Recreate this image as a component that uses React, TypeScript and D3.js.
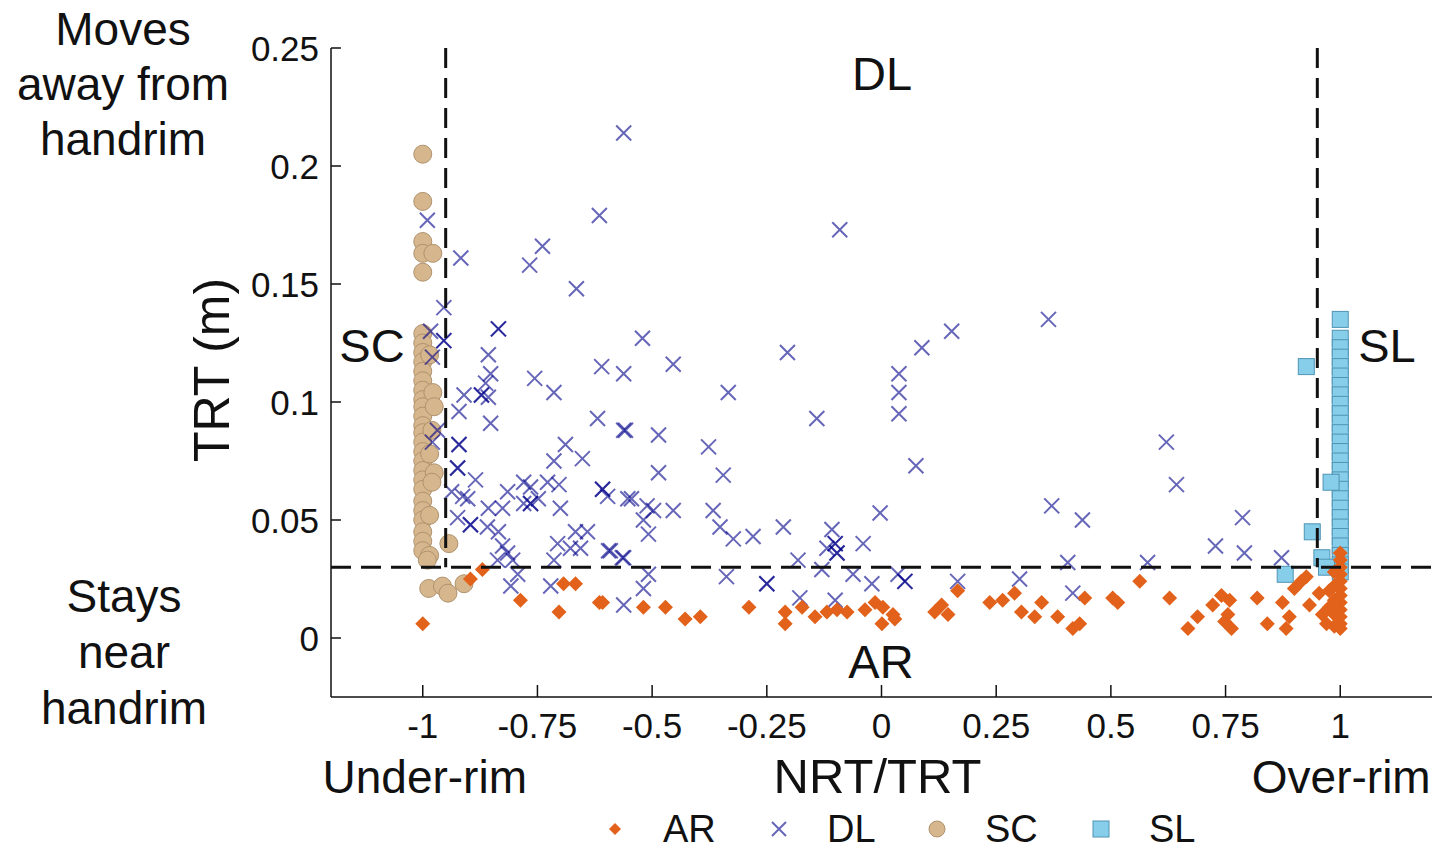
import React from "react";
import * as d3 from "d3";

// ---- data (NRT/TRT, TRT in m) ----
const AR_X = [-1, -0.896, -0.87, -0.787, -0.703, -0.693, -0.667, -0.615, -0.608, -0.519, -0.471, -0.428, -0.395, -0.289, -0.21, -0.21, -0.173, -0.145, -0.119, -0.097, -0.075, -0.036, -0.014, 0.003, 0.001, 0.025, 0.029, 0.116, 0.131, 0.145, 0.166, 0.236, 0.264, 0.29, 0.305, 0.334, 0.349, 0.384, 0.417, 0.432, 0.443, 0.504, 0.515, 0.563, 0.628, 0.668, 0.689, 0.722, 0.741, 0.759, 0.755, 0.763, 0.748, 0.819, 0.841, 0.874, 0.882, 0.889, 0.9, 0.915, 0.933, 0.926, 0.954, 0.961, 0.97, 1, 1, 1, 1, 1, 1, 1, 1, 1, 1, 1, 1, 0.987, 0.987, 0.987, 0.987, 0.987, 0.976, 0.976];
const AR_Y = [0.006, 0.025, 0.029, 0.016, 0.011, 0.023, 0.023, 0.015, 0.015, 0.013, 0.013, 0.008, 0.009, 0.013, 0.011, 0.006, 0.013, 0.009, 0.011, 0.012, 0.011, 0.012, 0.015, 0.013, 0.006, 0.010, 0.008, 0.011, 0.014, 0.010, 0.020, 0.015, 0.016, 0.019, 0.011, 0.009, 0.015, 0.009, 0.004, 0.006, 0.017, 0.017, 0.015, 0.024, 0.017, 0.004, 0.009, 0.014, 0.018, 0.016, 0.010, 0.004, 0.007, 0.017, 0.006, 0.015, 0.004, 0.009, 0.021, 0.024, 0.014, 0.026, 0.019, 0.010, 0.006, 0.036, 0.033, 0.030, 0.027, 0.024, 0.021, 0.018, 0.015, 0.012, 0.009, 0.006, 0.004, 0.028, 0.022, 0.016, 0.010, 0.005, 0.020, 0.013];

const DL_X = [-0.562, -0.99, -0.615, -0.917, -0.767, -0.739, -0.665, -0.954, -0.835, -0.835, -0.983, -0.954, -0.954, -0.979, -0.857, -0.852, -0.863, -0.872, -0.872, -0.857, -0.91, -0.921, -0.852, -0.756, -0.714, -0.61, -0.562, -0.619, -0.562, -0.968, -0.979, -0.921, -0.921, -0.924, -0.924, -0.885, -0.689, -0.714, -0.652, -0.937, -0.913, -0.902, -0.815, -0.78, -0.765, -0.728, -0.703, -0.608, -0.608, -0.597, -0.553, -0.857, -0.826, -0.78, -0.765, -0.765, -0.748, -0.7, -0.924, -0.896, -0.896, -0.859, -0.835, -0.826, -0.815, -0.804, -0.837, -0.793, -0.808, -0.706, -0.667, -0.641, -0.678, -0.656, -0.714, -0.721, -0.591, -0.562, -0.562, -0.091, -0.521, -0.454, -0.334, -0.205, -0.558, -0.486, -0.486, -0.377, -0.345, -0.141, -0.545, -0.511, -0.497, -0.519, -0.508, -0.454, -0.367, -0.352, -0.323, -0.28, -0.214, -0.595, -0.565, -0.508, -0.519, -0.338, -0.25, -0.25, -0.182, -0.178, -0.108, -0.119, -0.101, -0.101, -0.097, -0.097, -0.13, -0.101, -0.062, -0.04, -0.003, -0.021, 0.036, 0.038, 0.038, 0.038, 0.088, 0.153, 0.364, 0.075, 0.051, 0.051, 0.166, 0.301, 0.371, 0.438, 0.406, 0.417, 0.58, 0.621, 0.643, 0.787, 0.728, 0.791, 0.872];
const DL_Y = [0.214, 0.177, 0.179, 0.161, 0.158, 0.166, 0.148, 0.14, 0.131, 0.131, 0.13, 0.126, 0.126, 0.119, 0.12, 0.112, 0.108, 0.103, 0.103, 0.102, 0.103, 0.096, 0.091, 0.11, 0.104, 0.115, 0.112, 0.093, 0.088, 0.088, 0.083, 0.082, 0.082, 0.072, 0.072, 0.067, 0.082, 0.075, 0.076, 0.062, 0.06, 0.059, 0.062, 0.066, 0.064, 0.066, 0.065, 0.063, 0.063, 0.06, 0.059, 0.055, 0.055, 0.057, 0.057, 0.057, 0.059, 0.055, 0.051, 0.048, 0.048, 0.047, 0.045, 0.039, 0.036, 0.033, 0.033, 0.027, 0.022, 0.04, 0.045, 0.045, 0.038, 0.038, 0.033, 0.022, 0.037, 0.034, 0.014, 0.173, 0.127, 0.116, 0.104, 0.121, 0.088, 0.086, 0.07, 0.081, 0.069, 0.093, 0.059, 0.056, 0.054, 0.05, 0.044, 0.054, 0.054, 0.047, 0.042, 0.043, 0.047, 0.037, 0.034, 0.027, 0.021, 0.026, 0.023, 0.023, 0.033, 0.017, 0.046, 0.038, 0.04, 0.04, 0.036, 0.036, 0.029, 0.016, 0.027, 0.04, 0.053, 0.023, 0.027, 0.112, 0.104, 0.095, 0.123, 0.13, 0.135, 0.073, 0.024, 0.024, 0.024, 0.025, 0.056, 0.05, 0.032, 0.019, 0.032, 0.083, 0.065, 0.051, 0.039, 0.036, 0.034];

const SC_X = [-1, -1, -1, -1, -1, -1, -1, -1, -1, -1, -1, -1, -1, -1, -1, -1, -1, -1, -1, -1, -1, -1, -1, -1, -1, -1, -1, -1, -1, -0.978, -0.985, -0.978, -0.975, -0.98, -0.985, -0.975, -0.98, -0.985, -0.985, -0.99, -0.943, -0.987, -0.957, -0.945, -0.91];
const SC_Y = [0.205, 0.185, 0.168, 0.163, 0.155, 0.129, 0.125, 0.121, 0.117, 0.113, 0.109, 0.105, 0.101, 0.098, 0.094, 0.09, 0.087, 0.083, 0.079, 0.075, 0.071, 0.067, 0.063, 0.058, 0.054, 0.05, 0.045, 0.041, 0.037, 0.163, 0.12, 0.104, 0.098, 0.088, 0.078, 0.07, 0.066, 0.052, 0.035, 0.033, 0.04, 0.021, 0.022, 0.019, 0.023];

const SL_X = [1, 1, 1, 1, 1, 1, 1, 1, 1, 1, 1, 1, 1, 1, 1, 1, 1, 1, 1, 1, 1, 1, 1, 1, 1, 1, 1, 0.926, 0.939, 0.88, 0.96, 0.98, 0.97];
const SL_Y = [0.135, 0.127, 0.123, 0.119, 0.115, 0.111, 0.107, 0.103, 0.099, 0.095, 0.091, 0.087, 0.083, 0.079, 0.075, 0.071, 0.067, 0.063, 0.059, 0.055, 0.051, 0.047, 0.043, 0.039, 0.035, 0.031, 0.028, 0.115, 0.045, 0.027, 0.034, 0.066, 0.03];

const X_TICKS = [-1, -0.75, -0.5, -0.25, 0, 0.25, 0.5, 0.75, 1];
const X_TICK_LABELS = ["-1", "-0.75", "-0.5", "-0.25", "0", "0.25", "0.5", "0.75", "1"];
const Y_TICKS = [0, 0.05, 0.1, 0.15, 0.2, 0.25];
const Y_TICK_LABELS = ["0", "0.05", "0.1", "0.15", "0.2", "0.25"];
const NRT_THRESHOLDS = [-0.95, 0.95];
const TRT_THRESHOLD = 0.03;
const LEGEND = ["AR", "DL", "SC", "SL"];

const FONT = "'Liberation Sans', Arial, Helvetica, sans-serif";
const C_AR = "#E2621B";
const C_DL = "#00008B";
const C_SC = "#D6B68C";
const C_SC_S = "#B0926E";
const C_SL = "#87CEEB";
const C_SL_S = "#4F94B4";

const diamond = (r: number) => `M0,${-r}L${r},0L0,${r}L${-r},0Z`;
const cross = (r: number) => `M${-r},${-r}L${r},${r}M${-r},${r}L${r},${-r}`;

export default function App() {
  const W = 1442, H = 849;
  const x = d3.scaleLinear().domain([-1.2, 1.2]).range([331, 1432]);
  const y = d3.scaleLinear().domain([-0.025, 0.25]).range([697, 48]);
  const [x0, x1] = x.range();
  const [yb, yt] = y.range();

  const ar = AR_X.map((v, i) => [v, AR_Y[i]]);
  const dl = DL_X.map((v, i) => [v, DL_Y[i]]);
  const sc = SC_X.map((v, i) => [v, SC_Y[i]]);
  const sl = SL_X.map((v, i) => [v, SL_Y[i]]);

  const legendX = [615, 779, 937, 1101];
  const legendY = 829;

  return (
    <svg width={W} height={H} style={{ position: "absolute", left: 0, top: 0, background: "#fff" }} fontFamily={FONT}>
      {/* side labels */}
      <g fontSize={46} textAnchor="middle" fill="#111">
        <text x={123} y={45}>Moves</text>
        <text x={123} y={100}>away from</text>
        <text x={123} y={155}>handrim</text>
        <text x={124} y={612}>Stays</text>
        <text x={124} y={668}>near</text>
        <text x={124} y={724}>handrim</text>
      </g>
      <text transform={`translate(229,370) rotate(-90)`} fontSize={50} textAnchor="middle" fill="#111">TRT (m)</text>

      {/* markers */}
      {sc.map((d, i) => (
        <circle key={"sc" + i} cx={x(d[0])} cy={y(d[1])} r={9} fill={C_SC} stroke={C_SC_S} strokeWidth={1} />
      ))}
      {sl.map((d, i) => (
        <rect key={"sl" + i} x={x(d[0]) - 8} y={y(d[1]) - 8} width={16} height={16} fill={C_SL} stroke={C_SL_S} strokeWidth={1} />
      ))}
      {dl.map((d, i) => (
        <path key={"dl" + i} d={cross(7.5)} transform={`translate(${x(d[0])},${y(d[1])})`} stroke={C_DL} strokeOpacity={0.6} strokeWidth={2} fill="none" />
      ))}
      {ar.map((d, i) => (
        <path key={"ar" + i} d={diamond(7.5)} transform={`translate(${x(d[0])},${y(d[1])})`} fill={C_AR} />
      ))}

      {/* threshold lines */}
      <g stroke="#111" strokeWidth={3} strokeDasharray="20,10" fill="none">
        {NRT_THRESHOLDS.map((t) => (
          <line key={t} x1={x(t)} x2={x(t)} y1={yt} y2={y(TRT_THRESHOLD)} />
        ))}
        <line x1={x0} x2={x1} y1={y(TRT_THRESHOLD)} y2={y(TRT_THRESHOLD)} />
      </g>

      {/* axes */}
      <g stroke="#111" strokeWidth={1.5}>
        <line x1={x0} x2={x0} y1={yt} y2={yb} />
        <line x1={x0} x2={x1} y1={yb} y2={yb} />
        {Y_TICKS.map((t) => (
          <line key={"yt" + t} x1={x0} x2={x0 + 10} y1={y(t)} y2={y(t)} />
        ))}
        {X_TICKS.map((t) => (
          <line key={"xt" + t} x1={x(t)} x2={x(t)} y1={yb} y2={yb - 12} />
        ))}
      </g>
      <g fontSize={35} fill="#111">
        {Y_TICKS.map((t, i) => (
          <text key={"yl" + t} x={319} y={y(t)} dy="0.36em" textAnchor="end">{Y_TICK_LABELS[i]}</text>
        ))}
        {X_TICKS.map((t, i) => (
          <text key={"xl" + t} x={x(t)} y={738} textAnchor="middle">{X_TICK_LABELS[i]}</text>
        ))}
      </g>
      <g fontSize={46} fill="#111" textAnchor="middle">
        <text x={x(-1) + 2} y={793}>Under-rim</text>
        <text x={x(0) - 4} y={793} fontSize={49}>NRT/TRT</text>
        <text x={x(1) + 1} y={793}>Over-rim</text>
      </g>

      {/* region labels */}
      <g fontSize={47} fill="#111" textAnchor="middle">
        <text x={882} y={90}>DL</text>
        <text x={881} y={678}>AR</text>
        <text x={372} y={362}>SC</text>
        <text x={1387} y={362}>SL</text>
      </g>

      {/* legend */}
      <g>
        <path d={diamond(6)} transform={`translate(${legendX[0]},${legendY})`} fill={C_AR} />
        <path d={cross(7)} transform={`translate(${legendX[1]},${legendY})`} stroke={C_DL} strokeOpacity={0.6} strokeWidth={2} fill="none" />
        <circle cx={legendX[2]} cy={legendY} r={8} fill={C_SC} stroke={C_SC_S} strokeWidth={1} />
        <rect x={legendX[3] - 8} y={legendY - 8} width={16} height={16} fill={C_SL} stroke={C_SL_S} strokeWidth={1} />
        {LEGEND.map((s, i) => (
          <text key={s} x={legendX[i] + 48} y={legendY + 13} fontSize={38} fill="#111">{s}</text>
        ))}
      </g>
    </svg>
  );
}
